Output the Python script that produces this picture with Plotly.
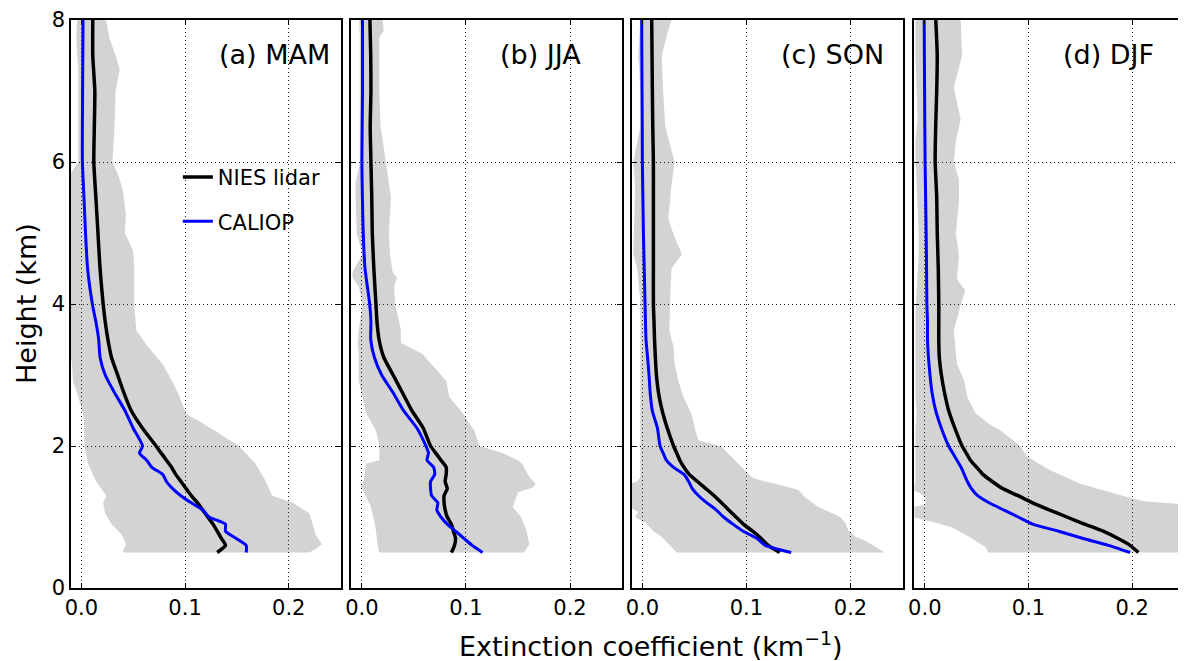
import plotly.graph_objects as go
from plotly.subplots import make_subplots

# heights (km) at which the mean profiles are sampled
heights = [8.0, 7.5, 7.0, 6.5, 6.0, 5.5, 5.0, 4.5, 4.0, 3.75, 3.5, 3.25, 3.0, 2.75, 2.5, 2.25,
           2.0, 1.9, 1.8, 1.7, 1.6, 1.5, 1.4, 1.3, 1.2, 1.1, 1.0, 0.9, 0.8, 0.7, 0.6, 0.5]

# mean extinction profiles (km-1), NIES lidar and CALIOP, per season
nies_mam = [0.011, 0.011, 0.013, 0.0125, 0.012, 0.014, 0.016, 0.018, 0.021, 0.023, 0.0256, 0.029,
            0.035, 0.041, 0.048, 0.059, 0.072, 0.077, 0.082, 0.087, 0.091, 0.096, 0.101, 0.106,
            0.112, 0.117, 0.122, 0.127, 0.131, 0.135, 0.139, 0.131]
caliop_mam = [0.0016, 0.0014, 0.0012, 0.001, 0.001, 0.0025, 0.004, 0.006, 0.0106, 0.014, 0.0167, 0.018,
              0.023, 0.032, 0.042, 0.050, 0.059, 0.056, 0.063, 0.068, 0.0785, 0.082, 0.088, 0.096,
              0.106, 0.117, 0.123, 0.139, 0.139, 0.149, 0.159, 0.159]
nies_jja = [0.0077, 0.0085, 0.0087, 0.008, 0.0087, 0.0095, 0.010, 0.0115, 0.0135, 0.0145, 0.0165, 0.021,
            0.030, 0.039, 0.048, 0.059, 0.066, 0.071, 0.076, 0.081, 0.081, 0.080, 0.082, 0.079,
            0.079, 0.080, 0.082, 0.086, 0.088, 0.090, 0.089, 0.086]
caliop_jja = [0.0006, 0.0006, 0.0006, 0.0003, 0.0, 0.0005, 0.0013, 0.003, 0.0075, 0.0087, 0.0085, 0.012,
              0.019, 0.030, 0.040, 0.053, 0.0615, 0.064, 0.0625, 0.069, 0.070, 0.066, 0.066, 0.067,
              0.073, 0.072, 0.076, 0.082, 0.090, 0.098, 0.106, 0.116]
nies_son = [0.009, 0.0093, 0.0096, 0.010, 0.0106, 0.0106, 0.0106, 0.0106, 0.0106, 0.0112, 0.0117, 0.0125,
            0.0135, 0.0155, 0.019, 0.024, 0.030, 0.033, 0.036, 0.040, 0.045, 0.053, 0.061, 0.069,
            0.076, 0.083, 0.090, 0.097, 0.106, 0.114, 0.121, 0.132]
caliop_son = [-0.0006, -0.0005, -0.0003, -0.0001, 0.0, 0.0005, 0.001, 0.0018, 0.0026, 0.003, 0.0035, 0.005,
              0.0064, 0.0075, 0.0095, 0.0145, 0.017, 0.020, 0.023, 0.030, 0.040, 0.0445, 0.048, 0.054,
              0.062, 0.071, 0.078, 0.087, 0.097, 0.110, 0.118, 0.143]
nies_djf = [0.0106, 0.012, 0.0115, 0.0105, 0.010, 0.0115, 0.012, 0.013, 0.0135, 0.0135, 0.0135, 0.014,
            0.016, 0.019, 0.023, 0.029, 0.036, 0.040, 0.044, 0.050, 0.056, 0.065, 0.075, 0.090,
            0.104, 0.120, 0.137, 0.154, 0.172, 0.186, 0.198, 0.206]
caliop_djf = [-0.0006, -0.0004, -0.0002, 0.0, 0.0003, 0.0008, 0.0013, 0.0017, 0.002, 0.0026, 0.0026, 0.0035,
              0.005, 0.007, 0.0105, 0.016, 0.023, 0.027, 0.031, 0.035, 0.038, 0.041, 0.045, 0.051,
              0.062, 0.076, 0.090, 0.104, 0.129, 0.152, 0.177, 0.198]

# variability range (grey band): heights, lower and upper bound per season
band_h_mam = [8.0, 7.75, 7.5, 7.3, 7.0, 6.5, 6.0, 5.8, 5.6, 5.25, 5.0, 4.75, 4.5, 4.0, 3.63, 3.4, 3.15,
              2.9, 2.7, 2.45, 2.35, 2.2, 2.0, 1.75, 1.5, 1.3, 1.2, 1.05, 0.9, 0.75, 0.62, 0.55, 0.5]
band_lo_mam = [-0.004, -0.005, -0.004, -0.003, -0.003, -0.003, -0.003, -0.012, -0.012, -0.012, -0.012,
               -0.012, -0.012, -0.012, -0.012, -0.012, -0.009, -0.008, -0.003, 0.0016, 0.0025, 0.003,
               0.003, 0.0064, 0.0144, 0.024, 0.021, 0.023, 0.029, 0.039, 0.043, 0.041, 0.040]
band_hi_mam = [0.024, 0.027, 0.033, 0.037, 0.033, 0.032, 0.030, 0.036, 0.040, 0.043, 0.042, 0.050, 0.051,
               0.051, 0.053, 0.064, 0.0785, 0.088, 0.0945, 0.101, 0.114, 0.130, 0.152, 0.168, 0.178,
               0.184, 0.204, 0.220, 0.223, 0.226, 0.232, 0.226, 0.220]

band_h_jja = [8.0, 7.85, 7.75, 7.5, 7.0, 6.5, 6.0, 5.7, 5.5, 5.0, 4.7, 4.45, 4.37, 4.25, 4.0, 3.63, 3.45,
              3.3, 3.16, 2.92, 2.69, 2.46, 2.22, 2.0, 1.9, 1.8, 1.75, 1.56, 1.47, 1.42, 1.35, 1.28, 1.14,
              1.0, 0.81, 0.62, 0.5]
band_lo_jja = [-0.0026, -0.002, -0.002, -0.002, -0.002, -0.002, -0.002, -0.006, -0.006, -0.005, 0.0006,
               -0.009, -0.009, -0.003, 0.0006, -0.003, -0.004, -0.003, -0.003, -0.003, 0.0006, 0.004,
               0.0135, 0.0167, 0.0167, 0.0167, 0.004, 0.0023, 0.0006, -0.001, 0.002, 0.004, 0.0087,
               0.011, 0.0135, 0.015, 0.0167]
band_hi_jja = [0.020, 0.021, 0.0167, 0.0167, 0.0167, 0.018, 0.023, 0.026, 0.028, 0.026, 0.027, 0.0295,
               0.034, 0.031, 0.032, 0.0375, 0.0375, 0.058, 0.066, 0.081, 0.084, 0.097, 0.108, 0.113,
               0.135, 0.150, 0.154, 0.161, 0.167, 0.165, 0.150, 0.148, 0.145, 0.153, 0.158, 0.161, 0.156]

band_h_son = [8.0, 7.75, 7.5, 7.3, 7.0, 6.5, 6.0, 5.67, 5.2, 4.98, 4.7, 4.5, 4.05, 3.63, 3.39, 3.16, 2.92,
              2.69, 2.46, 2.22, 2.08, 1.99, 1.75, 1.56, 1.5, 1.47, 1.38, 1.28, 1.14, 1.07, 1.0, 0.92,
              0.81, 0.72, 0.67, 0.5]
band_lo_son = [-0.002, -0.003, -0.004, -0.003, -0.002, -0.002, -0.0087, -0.007, -0.008, -0.0087, -0.0087,
               -0.005, -0.002, -0.002, -0.002, -0.002, -0.002, -0.002, -0.002, -0.002, -0.002, -0.002,
               -0.002, -0.002, -0.005, -0.012, -0.012, -0.012, -0.012, -0.004, -0.007, 0.003, 0.010,
               0.0186, 0.022, 0.033]
band_hi_son = [0.028, 0.023, 0.0186, 0.019, 0.020, 0.022, 0.031, 0.028, 0.025, 0.030, 0.038, 0.028,
               0.0266, 0.026, 0.030, 0.031, 0.0346, 0.0394, 0.047, 0.051, 0.054, 0.076, 0.092, 0.105,
               0.118, 0.128, 0.150, 0.156, 0.169, 0.180, 0.190, 0.195, 0.198, 0.205, 0.214, 0.233]

band_h_djf = [8.0, 7.5, 7.05, 6.6, 6.3, 6.0, 5.75, 5.45, 5.0, 4.68, 4.35, 4.19, 3.9, 3.63, 3.4, 3.16,
              2.92, 2.69, 2.46, 2.31, 2.22, 2.0, 1.85, 1.66, 1.47, 1.38, 1.33, 1.28, 1.22, 1.17, 1.14,
              1.0, 0.92, 0.85, 0.71, 0.57, 0.5]
band_lo_djf = [-0.009, -0.009, -0.008, -0.007, -0.009, -0.009, -0.008, -0.007, -0.006, -0.006, -0.007,
               -0.008, -0.009, -0.009, -0.009, -0.009, -0.009, -0.009, -0.008, -0.009, -0.009, -0.009,
               -0.009, -0.009, -0.009, -0.012, -0.004, 0.0, 0.001, 0.0, -0.012, -0.012, 0.011, 0.027,
               0.044, 0.059, 0.061]
band_hi_djf = [0.0346, 0.036, 0.028, 0.0346, 0.030, 0.028, 0.033, 0.033, 0.030, 0.033, 0.031, 0.039,
               0.033, 0.028, 0.0295, 0.031, 0.038, 0.041, 0.049, 0.062, 0.073, 0.092, 0.099, 0.121,
               0.150, 0.170, 0.183, 0.195, 0.213, 0.26, 0.27, 0.27, 0.27, 0.27, 0.27, 0.27, 0.27]

panel_labels = ['(a) MAM', '(b) JJA', '(c) SON', '(d) DJF']
x_ticks = [0.0, 0.1, 0.2]
x_ticktext = ['0.0', '0.1', '0.2']
y_ticks = [0, 2, 4, 6, 8]

panels = [
    (band_h_mam, band_lo_mam, band_hi_mam, nies_mam, caliop_mam),
    (band_h_jja, band_lo_jja, band_hi_jja, nies_jja, caliop_jja),
    (band_h_son, band_lo_son, band_hi_son, nies_son, caliop_son),
    (band_h_djf, band_lo_djf, band_hi_djf, nies_djf, caliop_djf),
]

FONT = 'DejaVu Sans'
fig = make_subplots(rows=1, cols=4, shared_yaxes=True, horizontal_spacing=0.01)

# panel positions (fractions of the plotting area)
domains = [[0.0, 0.2422], [0.2520, 0.4951], [0.5040, 0.7471], [0.7578, 1.0]]

for i, (bh, lo, hi, nies, cal) in enumerate(panels, start=1):
    # grey band as a closed polygon; translucent black so the dotted grid shows through
    fig.add_trace(go.Scatter(
        x=lo + hi[::-1], y=bh + bh[::-1], mode='lines', fill='toself',
        fillcolor='rgba(0,0,0,0.173)', line=dict(width=0),
        showlegend=False, hoverinfo='skip'), row=1, col=i)
    fig.add_trace(go.Scatter(
        x=nies, y=heights, mode='lines', name='NIES lidar', legendgroup='nies',
        line=dict(color='#000000', width=3.5, shape='spline', smoothing=0.5),
        showlegend=(i == 1)), row=1, col=i)
    fig.add_trace(go.Scatter(
        x=cal, y=heights, mode='lines', name='CALIOP', legendgroup='caliop',
        line=dict(color='#0000ff', width=3, shape='spline', smoothing=0.5),
        showlegend=(i == 1)), row=1, col=i)

    xa = 'x' if i == 1 else f'x{i}'
    ya = 'y' if i == 1 else f'y{i}'
    fig.add_annotation(text=panel_labels[i - 1], xref=f'{xa} domain', yref=f'{ya} domain',
                       x=0.543, y=0.939, xanchor='left', yanchor='middle', showarrow=False,
                       font=dict(size=27, family=FONT, color='black'))

axis_common = dict(showline=True, linecolor='black', linewidth=1.5, mirror='allticks',
                   ticks='inside', ticklen=5, tickcolor='black', tickwidth=1,
                   showgrid=True, gridcolor='#222222', gridwidth=1, griddash='1px,3px',
                   zeroline=False, ticklabeloverflow='allow',
                   tickfont=dict(size=21, family=FONT, color='black'))

fig.update_xaxes(range=[-0.01, 0.25], tickvals=x_ticks, ticktext=x_ticktext, **axis_common)
fig.update_yaxes(range=[0, 8], tickvals=y_ticks, **axis_common)
for i, dom in enumerate(domains, start=1):
    fig.update_xaxes(domain=dom, row=1, col=i)
    if i > 1:
        fig.update_yaxes(showticklabels=False, row=1, col=i)

fig.add_annotation(text='Extinction coefficient (km<sup>\u22121</sup>)', xref='paper', yref='paper',
                   x=0.5208, y=-0.0998, xanchor='center', yanchor='middle', showarrow=False,
                   font=dict(size=27, family=FONT, color='black'))
fig.add_annotation(text='Height (km)', xref='paper', yref='paper', textangle=-90,
                   x=-0.0404, y=0.5, xanchor='center', yanchor='middle', showarrow=False,
                   font=dict(size=27, family=FONT, color='black'))

# the page body adds an 8px margin, so the figure is made 8px smaller each way
fig.update_layout(
    width=1178, height=653,
    margin=dict(l=63, r=0, t=9, b=73),
    paper_bgcolor='white', plot_bgcolor='white',
    font=dict(family=FONT, color='black'),
    showlegend=True,
    legend=dict(x=0.096, y=0.759, xanchor='left', yanchor='top', bgcolor='rgba(0,0,0,0)',
                font=dict(size=21, family=FONT, color='black'), tracegroupgap=14),
)

fig.write_html('out.html')
